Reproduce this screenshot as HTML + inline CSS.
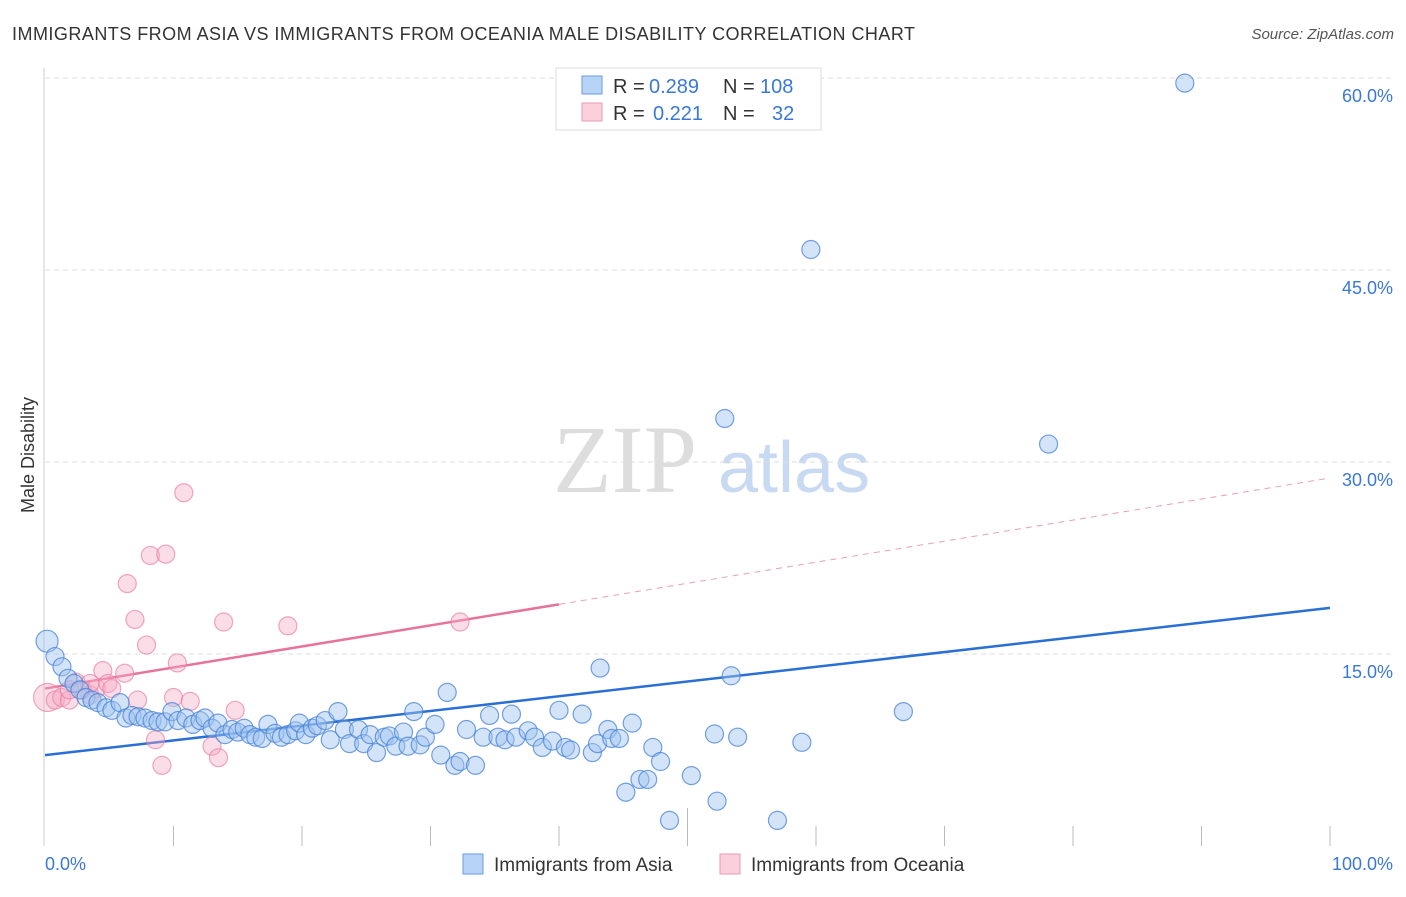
<!DOCTYPE html>
<html><head><meta charset="utf-8"><style>
body{margin:0;background:#fff;font-family:"Liberation Sans",sans-serif}
</style></head><body>
<svg id="c" width="1406" height="892" xmlns="http://www.w3.org/2000/svg" font-family="Liberation Sans, sans-serif">
<text x="12" y="40" font-size="18" fill="#333" textLength="903" lengthAdjust="spacing">IMMIGRANTS FROM ASIA VS IMMIGRANTS FROM OCEANIA MALE DISABILITY CORRELATION CHART</text>
<text x="1394" y="39" font-size="15" fill="#555" font-style="italic" text-anchor="end">Source: ZipAtlas.com</text>
<text transform="translate(34,455) rotate(-90)" font-size="18" fill="#333" text-anchor="middle">Male Disability</text>
<g><text x="553" y="492" font-size="96" fill="#ddd" font-family="Liberation Serif, serif">ZIP</text><text x="718" y="492" font-size="72" fill="#c8daf2">atlas</text></g>
<g id="grid"></g><g id="trend"></g><g id="pts"></g>
<g>
<rect x="556" y="68" width="265" height="62" fill="#fff" stroke="#ddd"/>
<rect x="582" y="76" width="20" height="18" fill="#b7d3f5" stroke="#6a9ee0"/>
<rect x="582" y="103" width="20" height="18" fill="#fbcfdc" stroke="#eb9ab3"/>
<text x="613" y="93" font-size="20" fill="#333">R =</text><text x="649" y="93" font-size="20" fill="#3a78d8">0.289</text>
<text x="723" y="93" font-size="20" fill="#333">N =</text><text x="760" y="93" font-size="20" fill="#3a78d8">108</text>
<text x="613" y="120" font-size="20" fill="#333">R =</text><text x="653" y="120" font-size="20" fill="#3a78d8">0.221</text>
<text x="723" y="120" font-size="20" fill="#333">N =</text><text x="772" y="120" font-size="20" fill="#3a78d8">32</text>
</g>
<g>
<rect x="463" y="854" width="20" height="20" fill="#b7d3f5" stroke="#6a9ee0"/>
<text x="494" y="871" font-size="19" fill="#333">Immigrants from Asia</text>
<rect x="720" y="854" width="20" height="20" fill="#fbcfdc" stroke="#eb9ab3"/>
<text x="751" y="871" font-size="19" fill="#333">Immigrants from Oceania</text>
</g>
<text x="45" y="870" font-size="18" fill="#3a78d8">0.0%</text>
<text x="1393" y="870" font-size="18" fill="#3a78d8" text-anchor="end">100.0%</text>
</svg>
<script>
const yTicks=[15,30,45,60];
const asiaX=[0.16,0.78,1.32,1.79,2.26,2.72,3.19,3.66,4.12,4.75,5.21,5.84,6.3,6.77,7.24,7.78,8.33,8.79,9.34,9.88,10.35,10.97,11.5,12.06,12.45,13.0,13.46,14.0,14.55,15.0,15.5,15.95,16.4,16.9,17.35,17.9,18.4,18.9,19.5,19.8,20.3,20.8,21.2,21.8,22.2,22.8,23.3,23.7,24.4,24.8,25.3,25.8,26.4,26.8,27.3,27.9,28.25,28.7,29.2,29.6,30.35,30.8,31.3,31.9,32.3,32.8,33.5,34.1,34.6,35.25,35.8,36.3,36.65,37.6,38.1,38.7,39.5,40.0,40.5,40.9,41.8,42.6,43.0,43.2,43.8,44.1,44.7,45.2,45.7,46.3,46.9,47.3,47.9,48.6,50.3,52.1,52.3,52.9,53.4,53.9,57.0,58.9,59.6,66.8,78.1,88.7];
const asiaY=[16.0,14.8,14.0,13.1,12.7,12.2,11.6,11.4,11.2,10.8,10.6,11.2,10.0,10.2,10.1,10.0,9.8,9.7,9.7,10.5,9.8,10.0,9.5,9.8,10.0,9.2,9.6,8.7,9.1,8.9,9.2,8.7,8.5,8.4,9.5,8.8,8.5,8.7,9.0,9.6,8.7,9.2,9.4,9.8,8.3,10.5,9.1,8.0,9.1,8.0,8.7,7.3,8.5,8.6,7.8,8.9,7.8,10.5,7.9,8.5,9.5,7.1,12.0,6.3,6.6,9.1,6.3,8.5,10.2,8.5,8.3,10.3,8.5,9.0,8.5,7.7,8.2,10.6,7.7,7.5,10.3,7.3,8.0,13.9,9.1,8.4,8.4,4.2,9.6,5.2,5.2,7.7,6.6,2.0,5.5,8.75,3.5,33.4,13.3,8.5,2.0,8.1,46.6,10.5,31.4,59.6];
const oceX=[0.2,0.8,1.3,1.9,2.4,2.9,3.5,4.0,4.5,4.9,5.2,6.2,6.4,7.0,7.2,7.9,8.2,8.6,9.1,9.4,10.0,10.3,10.8,11.3,13.0,13.5,13.9,14.8,18.9,32.3,1.9,3.5];
const oceY=[11.6,11.4,11.6,11.4,12.8,12.2,11.8,12.3,13.7,12.7,12.3,13.5,20.5,17.7,11.4,15.7,22.7,8.3,6.3,22.8,11.6,14.3,27.6,11.3,7.8,6.9,17.5,10.6,17.2,17.5,12.2,12.7];
const asiaTrend=[7.1,18.6];
const oceTrend=[12.3,28.75];
const NS="http://www.w3.org/2000/svg";
const X=v=>45+v*12.85, Y=v=>846-v*12.8;
function mk(t,a,p){const e=document.createElementNS(NS,t);for(const k in a)e.setAttribute(k,a[k]);p.appendChild(e);return e;}
const g=document.getElementById('grid');
mk('line',{x1:44,y1:68,x2:44,y2:846,stroke:'#ccc'},g);
yTicks.forEach(t=>{
 const l=mk('line',{x1:45,x2:1394,y1:Y(t),y2:Y(t),stroke:'#ddd','stroke-dasharray':'5,4'},g);
 
 
 const tx=mk('text',{x:1393,y:Y(t)+24,'font-size':18,fill:'#3a78d8','text-anchor':'end'},g);
 tx.textContent=t.toFixed(1)+'%';
 
 
});
for(let i=1;i<=10;i++){const l=mk('line',{x1:X(i*10),x2:X(i*10),y1:i==5?808:826,y2:846,stroke:'#bbb'},g);
 
 }
const tr=document.getElementById('trend');
let l1=mk('line',{x1:X(0),y1:Y(asiaTrend[0]),x2:X(100),y2:Y(asiaTrend[1]),stroke:'#2a6fd6','stroke-width':2.5},tr);


const oy=x=>oceTrend[0]+(oceTrend[1]-oceTrend[0])*x/100;
let l2=mk('line',{x1:X(0),y1:Y(oy(0)),x2:X(40),y2:Y(oy(40)),stroke:'#e8739a','stroke-width':2.5},tr);


let l3=mk('line',{x1:X(40),y1:Y(oy(40)),x2:X(100),y2:Y(oy(100)),stroke:'#e8a0b8','stroke-width':1,'stroke-dasharray':'6,5'},tr);


const p=document.getElementById('pts');
oceX.forEach((x,i)=>{const c=mk('circle',{cx:X(x),cy:Y(oceY[i]),r:i==0?14:9,fill:'rgba(246,170,195,0.4)',stroke:'rgba(232,130,165,0.7)','stroke-width':1.2},p);
 
 });
asiaX.forEach((x,i)=>{const c=mk('circle',{cx:X(x),cy:Y(asiaY[i]),r:i==0?11:9,fill:'rgba(160,196,240,0.45)',stroke:'rgba(70,130,215,0.75)','stroke-width':1.2},p);
 
 });
</script>
</body></html>
